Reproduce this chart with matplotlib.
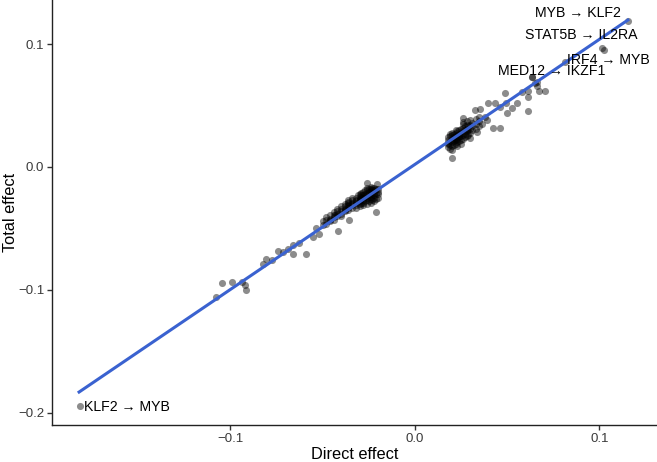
import matplotlib
matplotlib.use("Agg")
import matplotlib.pyplot as plt

plt.rcParams['font.family'] = ['Liberation Sans', 'DejaVu Sans']

# sparse points (direct effect, total effect)
sparse_x = [-0.1076, -0.1044, -0.0990, -0.0939, -0.0921, -0.0916, -0.0825, -0.0808,
            -0.0777, -0.0741, -0.0714, -0.0687, -0.0663, -0.0663, -0.0627, -0.0591,
            -0.0553, -0.0537, -0.0520, -0.0461, -0.0434, -0.0417, -0.0358, -0.0363,
            -0.0309, -0.0260, -0.0208, -0.0211,
            0.0199, 0.0180, 0.0262, 0.0260, 0.0325, 0.0352, 0.0379, 0.0397, 0.0434,
            0.0461, 0.0424, 0.0461, 0.0488, 0.0497, 0.0524, 0.0551, 0.0493, 0.0334,
            0.0298, 0.0362, 0.0389, 0.0578, 0.0614, 0.0614, 0.0650, 0.0660, 0.0674,
            0.0705, 0.0614, 0.0632, 0.0660, 0.1025]
sparse_y = [-0.1059, -0.0946, -0.0937, -0.0937, -0.0959, -0.1000, -0.0791, -0.0748,
            -0.0756, -0.0683, -0.0689, -0.0669, -0.0634, -0.0710, -0.0615, -0.0710,
            -0.0567, -0.0496, -0.0545, -0.0431, -0.0390, -0.0518, -0.0431, -0.0282,
            -0.0228, -0.0128, -0.0141, -0.0363,
            0.0076, 0.0193, 0.0396, 0.0368, 0.0463, 0.0469, 0.0409, 0.0518, 0.0518,
            0.0490, 0.0315, 0.0315, 0.0599, 0.0437, 0.0477, 0.0518, 0.0523, 0.0287,
            0.0233, 0.0350, 0.0382, 0.0612, 0.0620, 0.0572, 0.0680, 0.0659, 0.0620,
            0.0620, 0.0458, 0.0734, 0.0690, 0.0950]

# dense negative cluster
neg_x = [-0.050, -0.050, -0.048, -0.048, -0.048, -0.046, -0.046, -0.046,
         -0.044, -0.044, -0.044, -0.044, -0.042, -0.042, -0.042, -0.042,
         -0.040, -0.040, -0.040, -0.040, -0.040, -0.038, -0.038, -0.038, -0.038, -0.038,
         -0.036, -0.036, -0.036, -0.036, -0.036, -0.036,
         -0.034, -0.034, -0.034, -0.034, -0.034, -0.034,
         -0.032, -0.032, -0.032, -0.032, -0.032, -0.032,
         -0.030, -0.030, -0.030, -0.030, -0.030, -0.030, -0.030,
         -0.029, -0.029, -0.029, -0.029,
         -0.028, -0.028, -0.028, -0.028, -0.028, -0.028,
         -0.027, -0.027, -0.027, -0.027,
         -0.026, -0.026, -0.026, -0.026, -0.026, -0.026, -0.026,
         -0.025, -0.025, -0.025, -0.025,
         -0.024, -0.024, -0.024, -0.024, -0.024, -0.024, -0.024,
         -0.023, -0.023, -0.023, -0.023,
         -0.022, -0.022, -0.022, -0.022, -0.022, -0.022,
         -0.021, -0.021, -0.021,
         -0.020, -0.020, -0.020, -0.020]
neg_y = [-0.047, -0.044, -0.046, -0.043, -0.041, -0.044, -0.042, -0.039,
         -0.041, -0.039, -0.043, -0.037, -0.040, -0.038, -0.036, -0.034,
         -0.038, -0.036, -0.034, -0.032, -0.040, -0.036, -0.034, -0.032, -0.030, -0.035,
         -0.035, -0.033, -0.031, -0.029, -0.032, -0.027,
         -0.033, -0.031, -0.029, -0.027, -0.030, -0.025,
         -0.031, -0.029, -0.027, -0.025, -0.028, -0.033,
         -0.030, -0.028, -0.026, -0.024, -0.022, -0.027, -0.032,
         -0.029, -0.025, -0.023, -0.021,
         -0.031, -0.027, -0.025, -0.023, -0.020, -0.029,
         -0.028, -0.024, -0.022, -0.019,
         -0.030, -0.027, -0.025, -0.023, -0.021, -0.019, -0.017,
         -0.028, -0.024, -0.020, -0.018,
         -0.029, -0.026, -0.024, -0.022, -0.020, -0.018, -0.016,
         -0.027, -0.023, -0.019, -0.017,
         -0.028, -0.025, -0.023, -0.021, -0.019, -0.017,
         -0.026, -0.022, -0.018,
         -0.025, -0.022, -0.020, -0.018]

# dense positive cluster
pos_x = [0.018, 0.018, 0.018, 0.018, 0.019, 0.019, 0.019, 0.019, 0.019,
         0.020, 0.020, 0.020, 0.020, 0.020, 0.020, 0.021, 0.021, 0.021, 0.021, 0.021,
         0.022, 0.022, 0.022, 0.022, 0.022, 0.022, 0.023, 0.023, 0.023, 0.023, 0.023,
         0.024, 0.024, 0.024, 0.024, 0.024, 0.025, 0.025, 0.025, 0.025, 0.025,
         0.026, 0.026, 0.026, 0.026, 0.026, 0.027, 0.027, 0.027, 0.027,
         0.028, 0.028, 0.028, 0.028, 0.028, 0.029, 0.029, 0.029,
         0.030, 0.030, 0.030, 0.030, 0.031, 0.031, 0.031,
         0.033, 0.033, 0.033, 0.035, 0.035, 0.035]
pos_y = [0.016, 0.019, 0.022, 0.024, 0.015, 0.018, 0.021, 0.025, 0.027,
         0.017, 0.020, 0.023, 0.026, 0.028, 0.014, 0.018, 0.021, 0.024, 0.027, 0.022,
         0.019, 0.022, 0.025, 0.028, 0.023, 0.030, 0.020, 0.023, 0.026, 0.029, 0.017,
         0.021, 0.024, 0.027, 0.030, 0.025, 0.022, 0.025, 0.028, 0.031, 0.019,
         0.023, 0.026, 0.029, 0.032, 0.035, 0.024, 0.027, 0.030, 0.033,
         0.025, 0.029, 0.031, 0.034, 0.037, 0.026, 0.030, 0.033,
         0.028, 0.031, 0.034, 0.038, 0.030, 0.033, 0.036,
         0.031, 0.035, 0.039, 0.033, 0.037, 0.041]

# labelled edges
edge_names = ["MYB \u2192 KLF2", "STAT5B \u2192 IL2RA", "IRF4 \u2192 MYB",
              "MED12 \u2192 IKZF1", "KLF2 \u2192 MYB"]
edge_x = [0.1154, 0.1012, 0.0813, 0.0632, -0.1816]
edge_y = [0.1189, 0.0970, 0.0854, 0.0734, -0.1943]
label_x = [0.0650, 0.0596, 0.0824, 0.0450, -0.1794]
label_y = [0.1254, 0.1076, 0.0870, 0.0780, -0.1951]

# fitted line ends
fit_x = [-0.182, 0.1154]
fit_y = [-0.183, 0.1195]

fig = plt.figure(figsize=(6.57, 4.62), dpi=100)
ax = fig.add_axes([0.0791, 0.0801, 0.9209, 0.9199])

all_x = sparse_x + neg_x + pos_x + edge_x
all_y = sparse_y + neg_y + pos_y + edge_y
ax.scatter(all_x, all_y, s=26, color="black", alpha=0.45, linewidths=0, zorder=2)
ax.plot(fit_x, fit_y, color="#3A62D0", linewidth=2.2, zorder=3)

for name, lx, ly in zip(edge_names, label_x, label_y):
    ax.text(lx, ly, name, ha="left", va="center", fontsize=10.2, color="black", zorder=4)

ax.set_xlim(-0.1967, 0.1312)
ax.set_ylim(-0.2098, 0.1358)
ax.set_xticks([-0.1, 0.0, 0.1])
ax.set_xticklabels(["\u22120.1", "0.0", "0.1"])
ax.set_yticks([-0.2, -0.1, 0.0, 0.1])
ax.set_yticklabels(["\u22120.2", "\u22120.1", "0.0", "0.1"])

for side in ["top", "right"]:
    ax.spines[side].set_visible(False)
for side in ["left", "bottom"]:
    ax.spines[side].set_linewidth(1.0)
    ax.spines[side].set_color("#222222")
ax.tick_params(length=3.5, width=1.0, color="#333333", labelsize=9.5,
               labelcolor="#3A3A3A", pad=2)

ax.set_xlabel("Direct effect", fontsize=11.8, labelpad=2)
ax.set_ylabel("Total effect", fontsize=11.8)
ax.yaxis.set_label_coords(-0.056, 0.5)

fig.savefig("out.png", dpi=100)
